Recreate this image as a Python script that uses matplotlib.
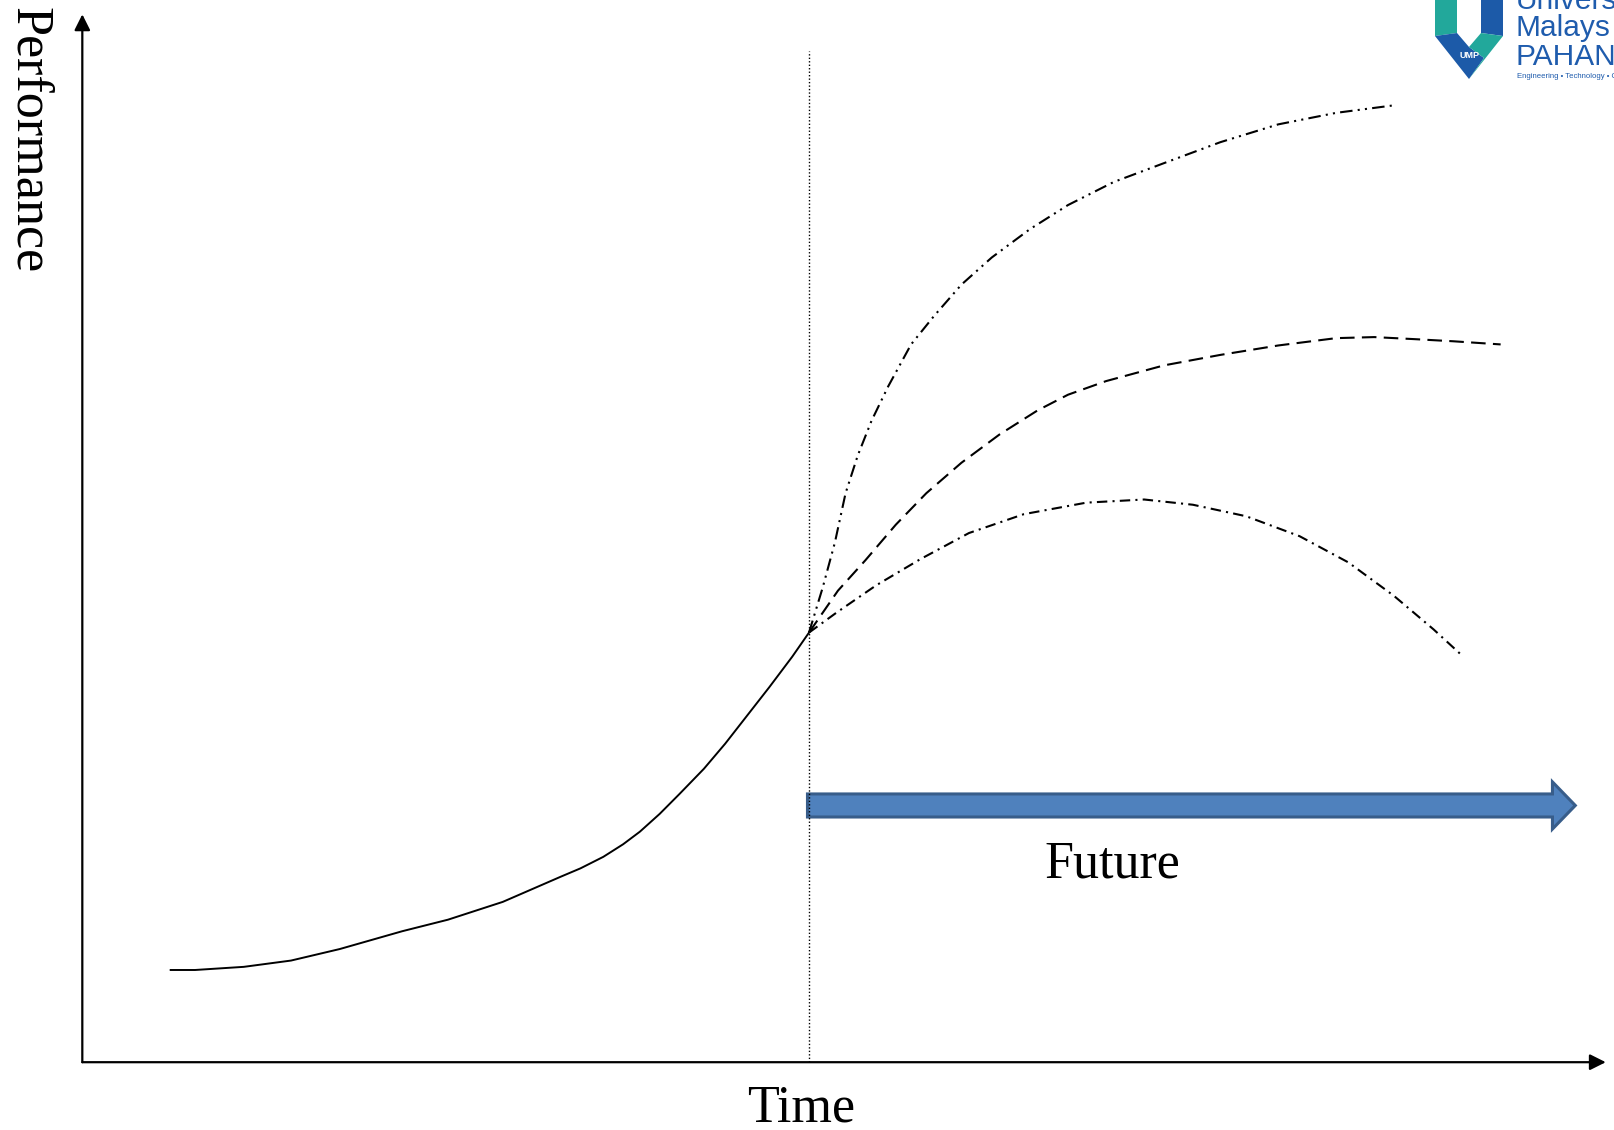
import matplotlib
matplotlib.use('Agg')
import matplotlib.pyplot as plt
from matplotlib.patches import FancyArrow, Polygon

plt.rcParams['font.family'] = ['Liberation Serif', 'DejaVu Serif']

# time / performance in arbitrary units (0..100 on both axes)
now_t = 47.7

# past performance (solid) up to now
past_t = [5.8, 7.4, 10.6, 13.7, 16.9, 21.0, 24.0, 27.6, 31.4, 32.7, 34.2, 35.5,
          36.6, 37.9, 39.2, 40.8, 42.2, 45.1, 46.6, 47.7]
past_p = [8.8, 8.8, 9.1, 9.7, 10.8, 12.5, 13.6, 15.3, 17.7, 18.5, 19.6, 20.8,
          22.0, 23.7, 25.6, 28.0, 30.4, 35.8, 38.7, 41.0]

# optimistic scenario (dash-dot-dot)
high_t = [47.7, 48.6, 49.4, 50.1, 50.9, 51.8, 52.9, 54.4, 55.9, 57.7, 59.7, 62.2,
          64.7, 67.7, 71.0, 74.7, 78.5, 82.3, 86.0]
high_p = [41.0, 45.3, 49.6, 54.3, 57.9, 61.2, 64.5, 68.5, 71.2, 74.2, 76.8, 79.5,
          81.8, 84.0, 85.8, 87.8, 89.5, 90.6, 91.3]

# middle scenario (dashed)
mid_t = [47.7, 49.6, 51.4, 53.4, 55.4, 57.7, 60.2, 62.7, 64.7, 67.2, 71.0, 74.7,
         78.5, 82.3, 84.8, 87.5, 90.0, 93.1]
mid_p = [41.0, 45.0, 47.9, 51.3, 54.3, 57.2, 59.9, 62.2, 63.7, 65.0, 66.5, 67.5,
         68.4, 69.1, 69.2, 69.0, 68.8, 68.5]

# pessimistic scenario (dash-dot)
low_t = [47.7, 49.5, 52.1, 55.0, 58.2, 61.8, 65.9, 69.7, 72.9, 76.4, 79.9, 83.1,
         86.1, 88.7, 90.5]
low_p = [41.0, 42.9, 45.5, 48.0, 50.5, 52.3, 53.4, 53.7, 53.2, 52.1, 50.2, 47.7,
         44.5, 41.3, 38.9]

x_label = 'Time'
y_label = 'Performance'
future_label = 'Future'


def draw_logo(fig):
    # UMP logo, partly cut off at the top right corner (pixel coords)
    lax = fig.add_axes([0, 0, 1, 1])
    lax.set_xlim(0, 1614)
    lax.set_ylim(1130, 0)
    lax.axis('off')
    teal = '#22A89B'
    blue = '#1C5AA8'
    shapes = [
        ([(1435, -2), (1457, -2), (1457, 33), (1435, 36)], teal),
        ([(1481, -2), (1503, -2), (1503, 36), (1481, 33)], blue),
        ([(1457, -2), (1481, -2), (1481, 33), (1469, 47), (1457, 33)], 'white'),
        ([(1435, 36), (1457, 33), (1469, 47), (1484, 58), (1469, 79)], blue),
        ([(1481, 33), (1503, 36), (1469, 79), (1484, 58), (1469, 47)], teal),
    ]
    for pts, c in shapes:
        lax.add_patch(Polygon(pts, closed=True, fc=c, ec='none'))
    lax.text(1469, 56, 'UMP', color='white', fontsize=6.5, fontweight='bold',
             family='Liberation Sans', ha='center', va='center')
    for s, y in [('Univers', 9), ('Malays', 36), ('PAHAN', 65)]:
        lax.text(1516, y, s, color='#1F5CAD', fontsize=21.5,
                 family='Liberation Sans', ha='left', va='baseline')
    lax.text(1517, 76, 'Engineering \u2022 Technology \u2022 C',
             color='#1F5CAD', fontsize=5.6, family='Liberation Sans',
             ha='left', va='center')


fig = plt.figure(figsize=(16.14, 11.30), dpi=100)
draw_logo(fig)

ax = fig.add_axes([0.0510, 0.0600, 0.9439, 0.9273])
ax.set_facecolor('none')
ax.set_xlim(0, 100)
ax.set_ylim(0, 100)
ax.axis('off')

# axes with arrow heads
arrow_kw = dict(arrowstyle='-|>', lw=1.6, color='black', mutation_scale=24,
                shrinkA=0, shrinkB=0)
ax.annotate('', xy=(100, 0), xytext=(0, 0), arrowprops=arrow_kw, annotation_clip=False)
ax.annotate('', xy=(0, 100), xytext=(0, 0), arrowprops=arrow_kw, annotation_clip=False)

# "now" marker
ax.plot([now_t, now_t], [0, 96.5], color='black', lw=1.0, ls=(0, (1, 1.5)))

ax.plot(past_t, past_p, color='black', lw=1.4, solid_joinstyle='round')
ax.plot(high_t, high_p, color='black', lw=1.5, ls=(0, (6, 2.5, 1, 2.5, 1, 2.5)))
ax.plot(mid_t, mid_p, color='black', lw=1.5, ls=(0, (7, 3.5)))
ax.plot(low_t, low_p, color='black', lw=1.5, ls=(0, (5, 2.5, 1, 2.5)))

# future arrow
ax.add_patch(FancyArrow(47.6, 24.5, 50.4, 0, width=2.2, head_width=4.5,
                        head_length=1.5, length_includes_head=True,
                        fc='#4F81BD', ec='#385D8A', lw=2.2))

ax.text(67.6, 17.6, future_label, fontsize=37.5, ha='center', va='baseline')
ax.text(47.2, -5.7, x_label, fontsize=37.5, ha='center', va='baseline')
ax.text(-4.35, 100.7, y_label, fontsize=37.5, rotation=-90,
        rotation_mode='anchor', ha='left', va='baseline')

fig.savefig('out.png', dpi=100)
